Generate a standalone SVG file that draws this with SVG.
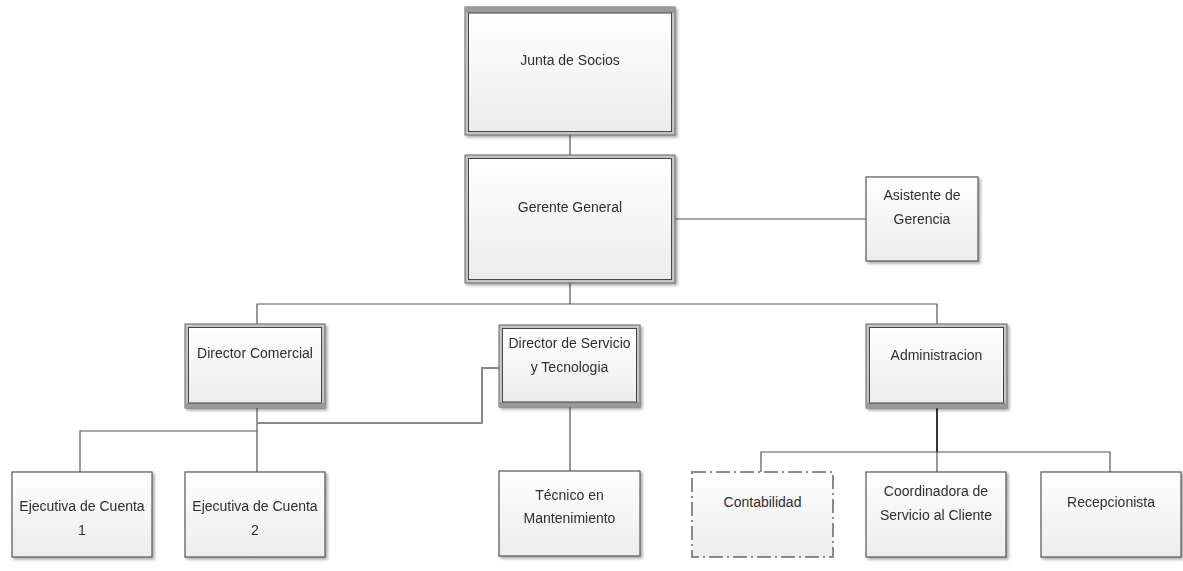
<svg xmlns="http://www.w3.org/2000/svg" width="1183" height="571" viewBox="0 0 1183 571">
<defs>
<linearGradient id="g" x1="0" y1="0" x2="0" y2="1">
<stop offset="0" stop-color="#ffffff"/>
<stop offset="1" stop-color="#ececec"/>
</linearGradient>
<filter id="sh" x="-10%" y="-10%" width="125%" height="125%">
<feGaussianBlur in="SourceAlpha" stdDeviation="1.5"/>
<feOffset dx="2" dy="2" result="b"/>
<feComponentTransfer><feFuncA type="linear" slope="0.35"/></feComponentTransfer>
<feMerge><feMergeNode/><feMergeNode in="SourceGraphic"/></feMerge>
</filter>
</defs>
<style>
.box{fill:url(#g);stroke:#555;stroke-width:1.2}
.outer{fill:#c4c4c4;stroke:#666;stroke-width:1}
.inner{fill:url(#g);stroke:#444;stroke-width:1}
.band{fill:#9a9a9a}
.dash{fill:url(#g);stroke:#8a8a8a;stroke-width:2;stroke-dasharray:14 4 2 4}
.t{font-family:"Liberation Sans",Arial,sans-serif;font-size:14px;fill:#2e2e2e;text-anchor:middle}
.c{fill:none;stroke:#555;stroke-width:1.2}
.c2{fill:none;stroke:#888;stroke-width:2}
.c3{fill:none;stroke:#333;stroke-width:2}
</style>
<g id="connectors">
<path class="c" d="M570 135V155"/>
<path class="c" d="M675 219H866"/>
<path class="c" d="M570 283V304"/>
<path class="c" d="M257 324V304H937V324"/>
<path class="c" d="M570 407V471"/>
<path class="c" d="M257 408V472"/>
<path class="c" d="M80 472V431H257"/>
<path class="c2" d="M499 368H482V423H257"/>
<path class="c3" d="M937 408V452"/>
<path class="c" d="M761 472V452H1110V472"/>
<path class="c" d="M937 452V472"/>
</g>
<g id="junta" filter="url(#sh)">
<rect class="outer" x="465" y="7" width="210" height="128"/>
<rect class="band" x="465" y="7" width="210" height="6"/>
<rect class="inner" x="468.5" y="13" width="203" height="118.5"/>
<text class="t" x="570" y="65">Junta de Socios</text>
</g>
<g id="gerente" filter="url(#sh)">
<rect class="outer" x="465" y="155" width="210" height="128"/>
<rect class="inner" x="468.5" y="158.5" width="203" height="121"/>
<text class="t" x="570" y="212">Gerente General</text>
</g>
<g id="asistente" filter="url(#sh)">
<rect class="box" x="866" y="177" width="112" height="84"/>
<text class="t" x="922" y="200">Asistente de</text>
<text class="t" x="922" y="224">Gerencia</text>
</g>
<g id="dircomercial" filter="url(#sh)">
<rect class="outer" x="185" y="324" width="140" height="84"/>
<rect class="band" x="185" y="403" width="140" height="5"/>
<rect class="inner" x="188.5" y="327.5" width="133" height="75.5"/>
<text class="t" x="255" y="358">Director Comercial</text>
</g>
<g id="dirservicio" filter="url(#sh)">
<rect class="outer" x="499" y="325" width="141" height="82"/>
<rect class="band" x="499" y="402" width="141" height="5"/>
<rect class="inner" x="502.5" y="328.5" width="134" height="73.5"/>
<text class="t" x="569.5" y="348">Director de Servicio</text>
<text class="t" x="569.5" y="372">y Tecnologia</text>
</g>
<g id="admin" filter="url(#sh)">
<rect class="outer" x="866" y="324" width="141" height="84"/>
<rect class="band" x="866" y="403" width="141" height="5"/>
<rect class="inner" x="869.5" y="327.5" width="134" height="75.5"/>
<text class="t" x="936.5" y="360">Administracion</text>
</g>
<g id="ejecutiva1" filter="url(#sh)">
<rect class="box" x="12" y="472" width="140" height="85"/>
<text class="t" x="82" y="511">Ejecutiva de Cuenta</text>
<text class="t" x="82" y="535">1</text>
</g>
<g id="ejecutiva2" filter="url(#sh)">
<rect class="box" x="185" y="472" width="140" height="85"/>
<text class="t" x="255" y="511">Ejecutiva de Cuenta</text>
<text class="t" x="255" y="535">2</text>
</g>
<g id="tecnico" filter="url(#sh)">
<rect class="box" x="499" y="471" width="141" height="85"/>
<text class="t" x="569.5" y="500">Técnico en</text>
<text class="t" x="569.5" y="523">Mantenimiento</text>
</g>
<g id="contabilidad">
<rect class="dash" x="692" y="472" width="141" height="85"/>
<text class="t" x="762.5" y="507">Contabilidad</text>
</g>
<g id="coordinadora" filter="url(#sh)">
<rect class="box" x="866" y="472" width="140" height="85"/>
<text class="t" x="936" y="496">Coordinadora de</text>
<text class="t" x="936" y="520">Servicio al Cliente</text>
</g>
<g id="recepcionista" filter="url(#sh)">
<rect class="box" x="1041" y="472" width="140" height="85"/>
<text class="t" x="1111" y="507">Recepcionista</text>
</g>
</svg>
